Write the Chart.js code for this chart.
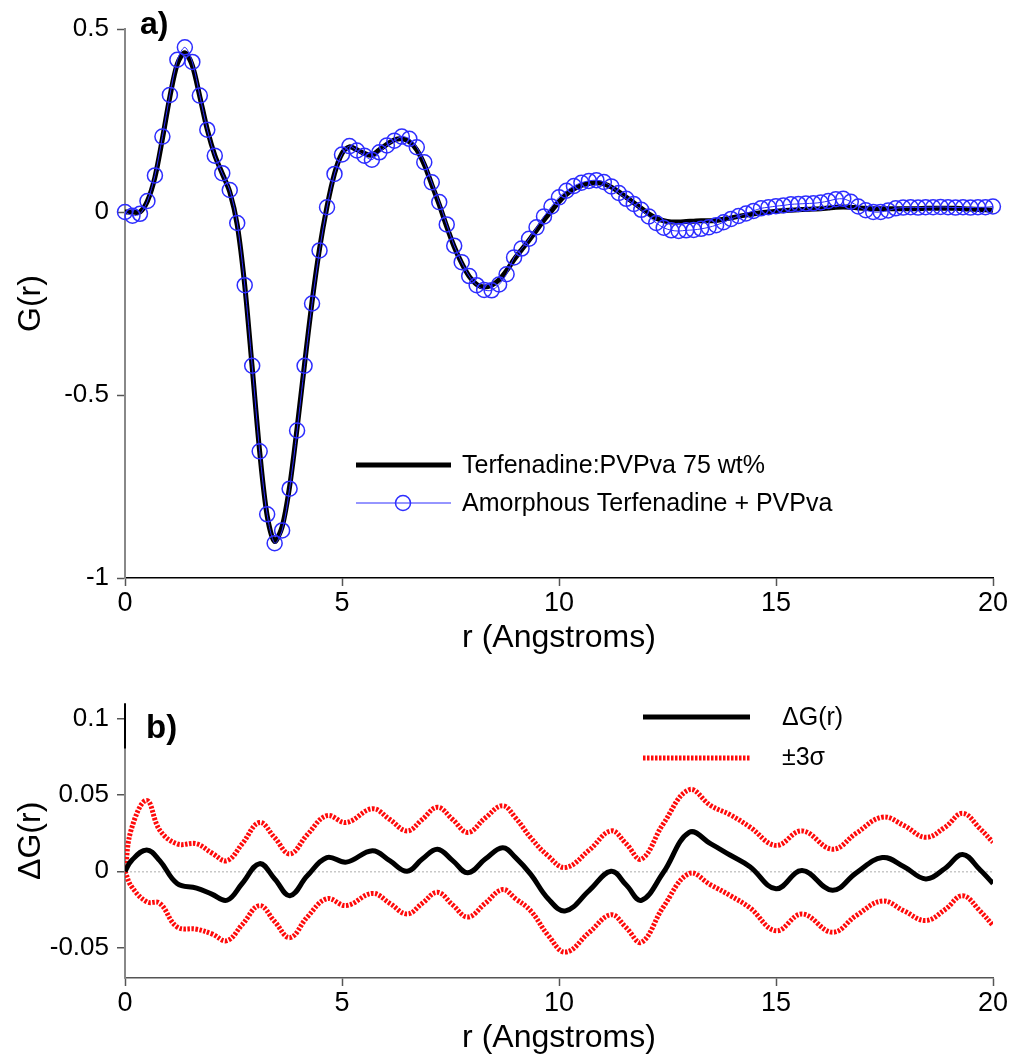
<!DOCTYPE html>
<html>
<head>
<meta charset="utf-8">
<script src="https://cdn.jsdelivr.net/npm/chart.js@4.4.0/dist/chart.umd.min.js"></script>
<style>
body { margin: 0; background: #fff; }
#wrap { position: relative; width: 1015px; height: 1063px; }
canvas { position: absolute; left: 0; }
</style>
</head>
<body>
<div id="wrap">
  <canvas id="chartA" width="1015" height="680" style="top:0"></canvas>
  <canvas id="chartB" width="1015" height="383" style="top:680px"></canvas>
</div>
<script>
const FONT = "'Liberation Sans', Arial, sans-serif";

// ---- panel a) : G(r), sampled every ~0.1724 A ----
const rStep = 0.1724;
const seriesNamesA = ['Terfenadine:PVPva 75 wt%', 'Amorphous Terfenadine + PVPva'];
const gBlack = [
  0, 0, 0, 0.03, 0.095, 0.2, 0.315, 0.405, 0.435, 0.4,
  0.315, 0.225, 0.155, 0.105, 0.055, -0.035, -0.2, -0.425, -0.655, -0.83,
  -0.9, -0.86, -0.75, -0.59, -0.415, -0.245, -0.1, 0.015, 0.105, 0.16,
  0.178, 0.17, 0.16, 0.155, 0.17, 0.185, 0.197, 0.2, 0.192, 0.17,
  0.13, 0.075, 0.02, -0.04, -0.095, -0.14, -0.176, -0.198, -0.205, -0.2,
  -0.185, -0.16, -0.13, -0.103, -0.077, -0.05, -0.022, 0.003, 0.028, 0.048,
  0.063, 0.073, 0.078, 0.08, 0.077, 0.068, 0.055, 0.04, 0.025, 0.01,
  -0.005, -0.017, -0.024, -0.027, -0.027, -0.026, -0.025, -0.024, -0.024, -0.023,
  -0.02, -0.016, -0.012, -0.008, -0.005, -0.002, 0, 0.002, 0.004, 0.005,
  0.006, 0.007, 0.008, 0.009, 0.011, 0.013, 0.014, 0.013, 0.011, 0.01,
  0.009, 0.009, 0.009, 0.009, 0.009, 0.009, 0.009, 0.01, 0.01, 0.01,
  0.01, 0.01, 0.009, 0.008, 0.007, 0.006, 0.005
];
const gBlue = [
  0, -0.01, -0.005, 0.03, 0.1, 0.206, 0.32, 0.416, 0.45, 0.41,
  0.318, 0.225, 0.154, 0.106, 0.06, -0.03, -0.2, -0.42, -0.654, -0.826,
  -0.905, -0.87, -0.756, -0.597, -0.42, -0.25, -0.105, 0.013, 0.104, 0.157,
  0.18, 0.168, 0.154, 0.143, 0.163, 0.182, 0.195, 0.206, 0.2, 0.177,
  0.136, 0.081, 0.027, -0.034, -0.092, -0.137, -0.175, -0.2, -0.213, -0.214,
  -0.198, -0.17, -0.124, -0.1, -0.073, -0.042, -0.012, 0.015, 0.04, 0.058,
  0.071, 0.08, 0.085, 0.087, 0.082, 0.07, 0.052, 0.036, 0.022, 0.006,
  -0.012, -0.03, -0.043, -0.05, -0.052, -0.05, -0.049, -0.046, -0.042, -0.036,
  -0.028, -0.019, -0.011, -0.004, 0.003, 0.01, 0.013, 0.016, 0.018, 0.021,
  0.022, 0.023, 0.024, 0.026, 0.03, 0.035, 0.036, 0.028, 0.015, 0.005,
  0, 0, 0.004, 0.01, 0.012, 0.013, 0.012, 0.013, 0.013, 0.014,
  0.013, 0.012, 0.013, 0.012, 0.013, 0.013, 0.015
];
const rGrid = gBlack.map((_, i) => +(i * rStep).toFixed(4));

const xTicks = [0, 5, 10, 15, 20];
const yTicksA = [-1, -0.5, 0, 0.5];
const yTickLabelsA = ['-1', '-0.5', '0', '0.5'];

// ---- panel b) : difference curve and +/-3 sigma ----
const seriesNamesB = ['\u0394G(r)', '\u00B13\u03C3'];
const rKnots = [
  0, 0.15, 0.5, 0.8, 1.2, 1.65, 2.0, 2.35, 2.7, 3.1,
  3.45, 3.8, 4.2, 4.65, 5.1, 5.7, 6.1, 6.5, 6.85, 7.2,
  7.55, 7.9, 8.3, 8.7, 9.0, 9.35, 9.75, 10.15, 10.7, 11.2,
  11.55, 11.9, 12.4, 13.0, 13.5, 13.95, 14.4, 15.0, 15.6, 16.3,
  16.85, 17.45, 17.95, 18.45, 18.9, 19.3, 19.7, 20.0
];
const dG = [
  0, 0.007, 0.014, 0.007, -0.008, -0.011, -0.015, -0.019, -0.008, 0.005,
  -0.005, -0.016, -0.003, 0.009, 0.006, 0.0135, 0.007, 0, 0.008, 0.0145,
  0.007, -0.001, 0.008, 0.0155, 0.009, -0.002, -0.018, -0.026, -0.0125, 0,
  -0.009, -0.019, -0.001, 0.0255, 0.018, 0.0105, 0.003, -0.0115, 0.0005, -0.0125,
  -0.001, 0.009, 0.003, -0.005, 0.002, 0.011, 0.001, -0.008
];
const sigUpper = [
  0, 0.028, 0.0465, 0.027, 0.018, 0.018, 0.012, 0.007, 0.018, 0.032,
  0.022, 0.0114, 0.024, 0.0365, 0.032, 0.041, 0.034, 0.0265, 0.034, 0.042,
  0.034, 0.0255, 0.035, 0.043, 0.035, 0.022, 0.01, 0.0025, 0.014, 0.0265,
  0.018, 0.008, 0.031, 0.0535, 0.043, 0.037, 0.029, 0.017, 0.0265, 0.0145,
  0.025, 0.0355, 0.03, 0.0223, 0.029, 0.038, 0.028, 0.019
];
const sigLower = [
  0, -0.01, -0.02, -0.021, -0.0365, -0.038, -0.041, -0.0455, -0.035, -0.0225,
  -0.033, -0.0435, -0.03, -0.018, -0.0225, -0.0145, -0.021, -0.028, -0.021, -0.0138,
  -0.022, -0.03, -0.021, -0.012, -0.018, -0.026, -0.042, -0.053, -0.04, -0.0285,
  -0.037, -0.0466, -0.0236, -0.0015, -0.009, -0.016, -0.024, -0.039, -0.028, -0.04,
  -0.029, -0.0195, -0.026, -0.0323, -0.025, -0.016, -0.026, -0.0356
];
const yTicksB = [-0.05, 0, 0.05, 0.1];
const yTickLabelsB = ['-0.05', '0', '0.05', '0.1'];

const BLUE = 'rgb(45,45,255)';
const RED = 'rgb(255,10,10)';

Chart.defaults.font.family = FONT;
Chart.defaults.color = '#000';

function pts(xs, ys) {
  return ys.map((y, i) => ({ x: xs[i], y: y }));
}

function xAxis(height, titlePad, borderColor) {
  return {
    type: 'linear', min: 0, max: 20,
    afterBuildTicks: s => { s.ticks = xTicks.map(v => ({ value: v })); },
    afterFit: s => { s.height = height; },
    ticks: { font: { size: 27 }, color: '#000', padding: 1, maxRotation: 0 },
    grid: { drawOnChartArea: false, tickLength: 8, tickColor: '#555', tickWidth: 1.5 },
    border: { color: borderColor, width: 1.5 },
    title: { display: true, text: 'r (Angstroms)', font: { size: 32 }, color: '#000', padding: { top: 0, bottom: titlePad } }
  };
}

// panel a
new Chart(document.getElementById('chartA'), {
  type: 'line',
  data: {
    datasets: [
      {
        label: seriesNamesA[1], data: pts(rGrid, gBlue),
        borderColor: BLUE, borderWidth: 1, tension: 0.3,
        pointRadius: 7.5, pointHoverRadius: 7.5, pointBorderWidth: 1.5,
        pointBorderColor: BLUE, pointBackgroundColor: 'rgba(0,0,0,0)',
        clip: 12, order: 0
      },
      {
        label: seriesNamesA[0], data: pts(rGrid, gBlack),
        borderColor: '#000', borderWidth: 5, tension: 0.3,
        pointRadius: 0, clip: 12, order: 1
      }
    ]
  },
  options: {
    responsive: false, animation: false,
    layout: { padding: { left: 0, right: 22, top: 29, bottom: 0 } },
    plugins: { legend: { display: false }, tooltip: { enabled: false } },
    scales: {
      x: xAxis(102, 23, '#000'),
      y: {
        min: -1, max: 0.5,
        afterBuildTicks: s => { s.ticks = yTicksA.map(v => ({ value: v })); },
        afterFit: s => { s.width = 125; },
        ticks: { font: { size: 26 }, color: '#000', padding: 8, callback: (v, i) => yTickLabelsA[i] },
        grid: { drawOnChartArea: false, tickLength: 8, tickColor: '#555', tickWidth: 1.5 },
        border: { color: '#888', width: 2 },
        title: { display: true, text: 'G(r)', font: { size: 32 }, color: '#000', padding: { top: 12, bottom: 0 } }
      }
    }
  },
  plugins: [{
    id: 'decorA',
    afterDraw(chart) {
      const c = chart.ctx;
      const ds = chart.data.datasets;
      c.save();
      c.fillStyle = '#000';
      c.font = 'bold 32px ' + FONT;
      c.textBaseline = 'alphabetic';
      c.fillText('a)', 140, 34);
      // legend
      c.strokeStyle = '#000'; c.lineWidth = 5;
      c.beginPath(); c.moveTo(356, 465); c.lineTo(451, 465); c.stroke();
      c.strokeStyle = BLUE; c.lineWidth = 1;
      c.beginPath(); c.moveTo(356, 503); c.lineTo(451, 503); c.stroke();
      c.lineWidth = 1.5;
      c.beginPath(); c.arc(403, 503, 7.5, 0, Math.PI * 2); c.stroke();
      c.font = '25px ' + FONT;
      c.textBaseline = 'middle';
      c.fillText(ds[1].label, 462, 466);
      c.fillText(ds[0].label, 462, 504);
      c.restore();
    }
  }]
});

// panel b
new Chart(document.getElementById('chartB'), {
  type: 'line',
  data: {
    datasets: [
      {
        label: seriesNamesB[0], data: pts(rKnots, dG),
        borderColor: '#000', borderWidth: 5, tension: 0.4,
        pointRadius: 0, order: 0
      },
      {
        label: seriesNamesB[1], data: pts(rKnots, sigUpper),
        borderColor: RED, borderWidth: 5, borderDash: [2.5, 1.5], tension: 0.4,
        pointRadius: 0, order: 1
      },
      {
        label: seriesNamesB[1], data: pts(rKnots, sigLower),
        borderColor: RED, borderWidth: 5, borderDash: [2.5, 1.5], tension: 0.4,
        pointRadius: 0, order: 2
      }
    ]
  },
  options: {
    responsive: false, animation: false,
    layout: { padding: { left: 0, right: 22, top: 23, bottom: 0 } },
    plugins: { legend: { display: false }, tooltip: { enabled: false } },
    scales: {
      x: xAxis(85, 6, '#555'),
      y: {
        min: -0.07, max: 0.11,
        afterBuildTicks: s => { s.ticks = yTicksB.map(v => ({ value: v })); },
        afterFit: s => { s.width = 125; },
        ticks: { font: { size: 26 }, color: '#000', padding: 8, callback: (v, i) => yTickLabelsB[i] },
        grid: {
          drawOnChartArea: true, tickLength: 8, tickColor: '#555', tickWidth: 1.5,
          color: ctx => (ctx.tick && ctx.tick.value === 0 ? '#c8c8c8' : 'rgba(0,0,0,0)'),
          lineWidth: 1.5
        },
        border: { color: '#888', width: 2, dash: [2, 2] },
        title: { display: true, text: '\u0394G(r)', font: { size: 32 }, color: '#000', padding: { top: 12, bottom: 0 } }
      }
    }
  },
  plugins: [{
    id: 'decorB',
    afterDraw(chart) {
      const c = chart.ctx;
      const ds = chart.data.datasets;
      c.save();
      c.fillStyle = '#000';
      // top part of the y axis is drawn black in the original
      c.strokeStyle = '#000'; c.lineWidth = 2;
      c.beginPath(); c.moveTo(chart.chartArea.left, chart.chartArea.top); c.lineTo(chart.chartArea.left, chart.chartArea.top + 45); c.stroke();
      c.font = 'bold 33px ' + FONT;
      c.textBaseline = 'alphabetic';
      c.fillText('b)', 146, 58);
      // legend
      c.lineWidth = 5;
      c.beginPath(); c.moveTo(643, 37); c.lineTo(750, 37); c.stroke();
      c.strokeStyle = RED; c.setLineDash([2.5, 1.5]);
      c.beginPath(); c.moveTo(643, 78); c.lineTo(750, 78); c.stroke();
      c.setLineDash([]);
      c.font = '25px ' + FONT;
      c.textBaseline = 'middle';
      c.fillText(ds[0].label, 782, 38);
      c.fillText(ds[1].label, 782, 78);
      c.restore();
    }
  }]
});
</script>
</body>
</html>
